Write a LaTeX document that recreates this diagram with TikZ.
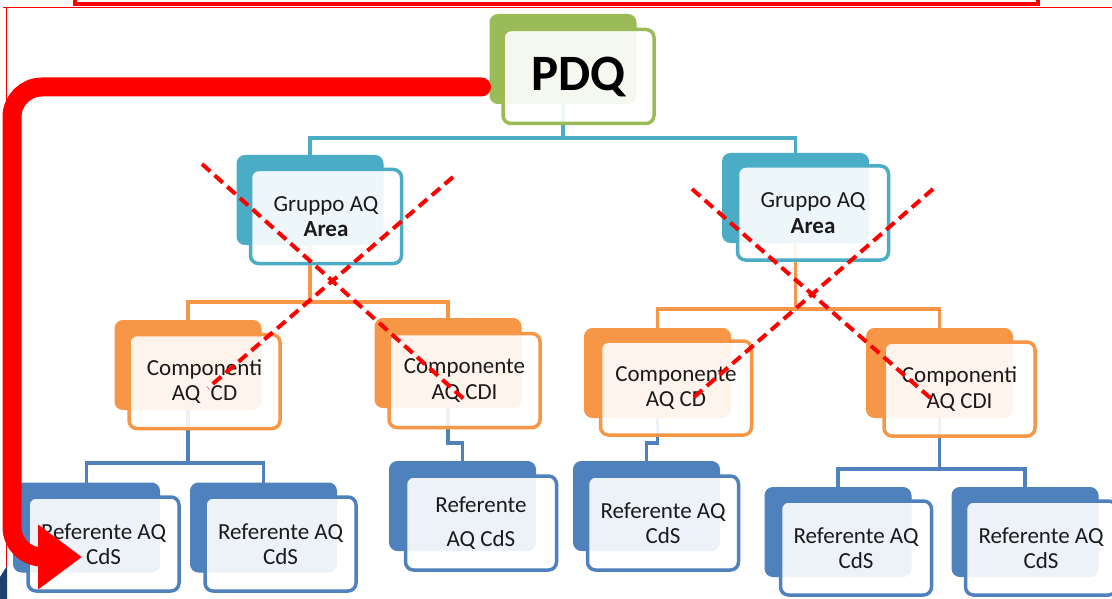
\documentclass[tikz,border=0pt]{standalone}
\usepackage{fontspec}
\setmainfont{Carlito}
\usetikzlibrary{arrows.meta,calc}
\definecolor{cgreen}{HTML}{9BBB59}
\definecolor{cteal}{HTML}{4BACC6}
\definecolor{corange}{HTML}{F79646}
\definecolor{cblue}{HTML}{4F81BD}
\definecolor{cnavy}{HTML}{1F3F6F}
\definecolor{ctext}{HTML}{1A1A1A}
\pgfdeclarelayer{bg}
\pgfsetlayers{bg,main}
\begin{document}
\begin{tikzpicture}[x=1pt,y=-1pt,
  back/.style={draw=#1, fill=#1, line width=1pt, rounded corners=8pt,
    minimum width=146pt, minimum height=89pt, inner sep=0pt},
  front/.style={draw=#1, fill=white, fill opacity=0.9, text opacity=1,
    line width=3.5pt, rounded corners=8pt, minimum width=151pt,
    minimum height=94pt, inner sep=0pt, align=center, text=ctext,
    font=\fontsize{23}{25.5}\selectfont},
  conn/.style={draw=#1, line width=3.2pt},
  cross/.style={draw=red, line width=4pt, dash pattern=on 11pt off 6pt},
  bigarrow/.style={draw=red, line width=19pt, rounded corners=30pt, line cap=round,
    -{Triangle[length=44pt,width=62pt]}},
]
\useasboundingbox (0,0) rectangle (1112,599);
\begin{pgfonlayer}{bg}
  \fill[white] (0,0) rectangle (1112,599);
\end{pgfonlayer}
\clip (0,0) rectangle (1112,599);

% level 0
\node[back=cgreen] (pdqb) at (563,59) {};
\node[front=cgreen, font=\fontsize{51}{60}\selectfont\bfseries, text=black] (pdq) at (578.5,76.5) {PDQ};

% level 1
\node[back=cteal] (g1b) at (310,200) {};
\node[front=cteal] (g1) at (326,216.5) {Gruppo AQ\\\textbf{Area}};
\node[back=cteal] (g2b) at (795.5,198) {};
\node[front=cteal] (g2) at (813,213) {Gruppo AQ\\\textbf{Area}};

% level 2
\node[back=corange] (c1b) at (188,365) {};
\node[front=corange] (c1) at (204.5,381.5) {Componenti\\AQ~~CD};
\node[back=corange] (c2b) at (448,363) {};
\node[front=corange] (c2) at (464.5,380.5) {Componente\\AQ CDI};
\node[back=corange] (c3b) at (657.5,373) {};
\node[front=corange] (c3) at (676,388) {Componente\\AQ CD};
\node[back=corange] (c4b) at (939.5,373) {};
\node[front=corange] (c4) at (959.5,389) {Componenti\\AQ CDI};

% level 3
\node[back=cblue] (r1b) at (86.5,527.5) {};
\node[front=cblue] (r1) at (103.5,544) {Referente AQ\\CdS};
\node[back=cblue] (r2b) at (263.5,527.5) {};
\node[front=cblue] (r2) at (280.5,544) {Referente AQ\\CdS};
\node[back=cblue] (r3b) at (462.5,506) {};
\node[front=cblue] (r3) at (481,523) {Referente\\[9pt]AQ CdS};
\node[back=cblue] (r4b) at (646.5,506) {};
\node[front=cblue] (r4) at (663,523) {Referente AQ\\CdS};
\node[back=cblue] (r5b) at (838,532) {};
\node[front=cblue] (r5) at (856,548) {Referente AQ\\CdS};
\node[back=cblue] (r6b) at (1025,532) {};
\node[front=cblue] (r6) at (1041,548) {Referente AQ\\CdS};

% connectors
\coordinate (b0) at (563,138);
\coordinate (b1) at (310,302);
\coordinate (b2) at (795.5,309);
\coordinate (b3) at (188,463);
\coordinate (b4) at (448,443);
\coordinate (b5) at (657.5,443);
\coordinate (b6) at (939.5,469);
\begin{pgfonlayer}{bg}
  \draw[conn=cteal] (pdqb.south) -- (b0) -| (g1b.north);
  \draw[conn=cteal] (b0) -| (g2b.north);
  \draw[conn=corange] (g1b.south) -- (b1) -| (c1b.north);
  \draw[conn=corange] (b1) -| (c2b.north);
  \draw[conn=corange] (g2b.south) -- (b2) -| (c3b.north);
  \draw[conn=corange] (b2) -| (c4b.north);
  \draw[conn=cblue] (c1b.south) -- (b3) -| (r1b.north);
  \draw[conn=cblue] (b3) -| (r2b.north);
  \draw[conn=cblue] (c2b.south) -- (b4) -| (r3b.north);
  \draw[conn=cblue] (c3b.south) -- (b5) -| (r4b.north);
  \draw[conn=cblue] (c4b.south) -- (b6) -| (r5b.north);
  \draw[conn=cblue] (b6) -| (r6b.north);
\end{pgfonlayer}

% top frame lines
\draw[red, line width=3.5pt] (75,-10) rectangle (1038,4);
\draw[red, line width=1.2pt] (3,7.5) -- (1112,7.5);
\draw[red, line width=1.2pt] (6.5,7.5) -- (6.5,599);
\fill[cnavy] (0,577) -- (7,566) -- (7,599) -- (0,599) -- cycle;

% big red arrow
\coordinate (as) at ($(pdqb.south west)+(-8,-17)$);
\coordinate (ac) at (12,557);
\coordinate (ae) at (82,557);
\draw[bigarrow] (as) -| (ac) -- (ae);

% red dashed crosses
\coordinate (x1a) at (202,164); \coordinate (x1b) at (465,400);
\coordinate (x2a) at (453,177); \coordinate (x2b) at (208,388);
\coordinate (x3a) at (692,189); \coordinate (x3b) at (935,402);
\coordinate (x4a) at (933,189); \coordinate (x4b) at (693,398);
\draw[cross] (x1a) -- (x1b);
\draw[cross] (x2a) -- (x2b);
\draw[cross] (x3a) -- (x3b);
\draw[cross] (x4a) -- (x4b);
\end{tikzpicture}
\end{document}
